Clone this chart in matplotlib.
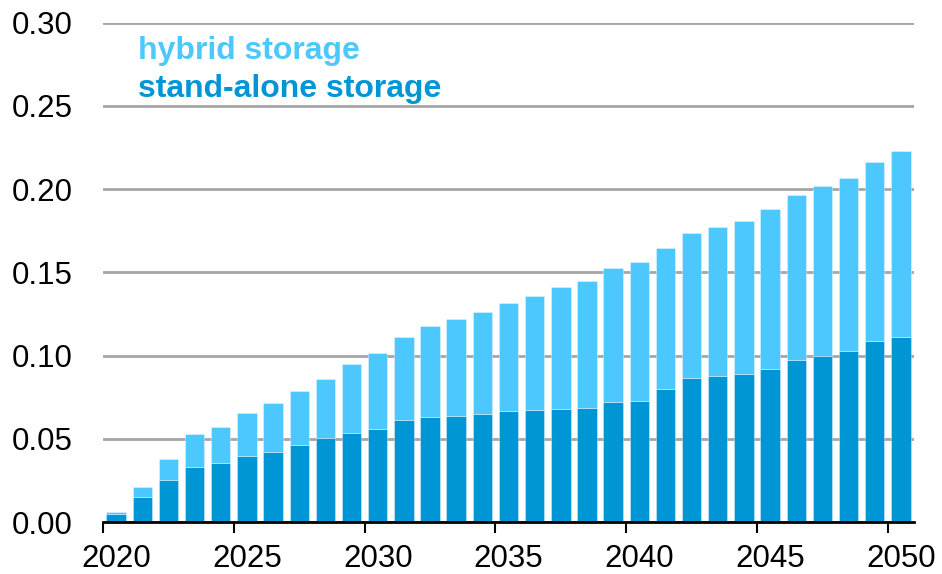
import matplotlib
matplotlib.use("Agg")
import matplotlib.pyplot as plt
import numpy as np

years = list(range(2020, 2051))
stand_alone = [0.0046, 0.0152, 0.0252, 0.0332, 0.0356, 0.0399, 0.0423, 0.0465, 0.0507, 0.0537,
               0.0559, 0.0615, 0.0633, 0.0639, 0.0651, 0.0669, 0.0675, 0.0681, 0.0687, 0.0723,
               0.0729, 0.0800, 0.0867, 0.0879, 0.0887, 0.0917, 0.0974, 0.0999, 0.1029, 0.1088,
               0.1114]
hybrid = [0.0013, 0.0058, 0.0125, 0.0199, 0.0217, 0.0254, 0.0292, 0.0324, 0.0352, 0.0414,
          0.0457, 0.0495, 0.0543, 0.0581, 0.0609, 0.0649, 0.0681, 0.0731, 0.0761, 0.0803,
          0.0833, 0.0847, 0.0872, 0.0896, 0.0920, 0.0962, 0.0993, 0.1020, 0.1038, 0.1074,
          0.1116]
y_ticks = [0.00, 0.05, 0.10, 0.15, 0.20, 0.25, 0.30]
x_tick_years = [2020, 2025, 2030, 2035, 2040, 2045, 2050]

dark = "#0096D6"
light = "#4DC8FF"

plt.rcParams['font.family'] = ['Liberation Sans', 'DejaVu Sans']

fig = plt.figure(figsize=(9.42, 5.74), dpi=100)
ax = fig.add_axes([103/942, 1 - 522/574, (914 - 103)/942, (522 - 22.7)/574])

x = np.array(years) + 0.5
ax.bar(x, stand_alone, width=0.74, color=dark, edgecolor=(1, 1, 1, 0.35), linewidth=0.7, zorder=3)
ax.bar(x, hybrid, width=0.74, bottom=stand_alone, color=light, edgecolor=(1, 1, 1, 0.35),
       linewidth=0.7, zorder=3)

ax.set_xlim(2020, 2051)
ax.set_ylim(0, 0.30)

ax.set_yticks(y_ticks)
ax.set_yticklabels([f"{v:.2f}" for v in y_ticks])
ax.yaxis.grid(True, color="#A6A6A6", linewidth=2, zorder=0)
ax.tick_params(axis='y', length=0, pad=22, labelsize=22.5)

ax.set_xticks(x_tick_years)
ax.set_xticklabels([""] * len(x_tick_years))
ax.set_xticks([yv + 0.5 for yv in x_tick_years], minor=True)
ax.set_xticklabels([str(yv) for yv in x_tick_years], minor=True)
ax.tick_params(axis='x', which='major', length=8, width=1.5, direction='out', color='black')
ax.tick_params(axis='x', which='minor', length=0, pad=15.5, labelsize=22.5)

for s in ['left', 'right', 'top']:
    ax.spines[s].set_visible(False)
ax.spines['bottom'].set_linewidth(2)
ax.spines['bottom'].set_color('black')
ax.spines['bottom'].set_zorder(4)

ax.text(2021.34, 0.278, "hybrid storage", color=light, fontsize=23, fontweight='bold',
        va='baseline', ha='left')
ax.text(2021.34, 0.2556, "stand-alone storage", color=dark, fontsize=23, fontweight='bold',
        va='baseline', ha='left')

fig.savefig("out.png", dpi=100)
